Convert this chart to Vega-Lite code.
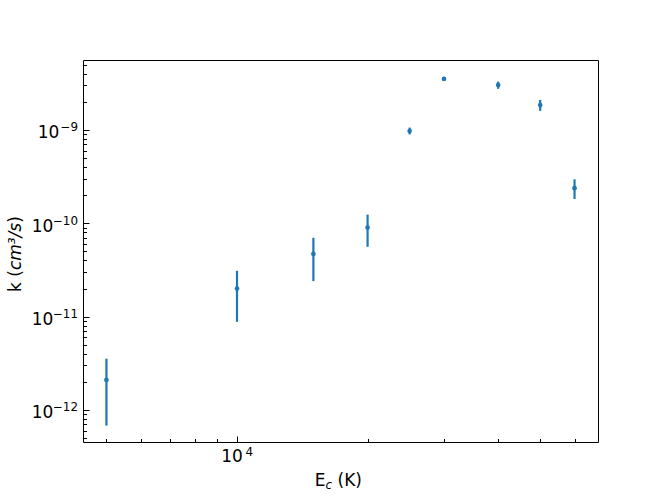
{
  "$schema": "https://vega.github.io/schema/vega-lite/v6.json",
  "autosize": "none",
  "width": 515,
  "height": 382,
  "padding": {"left": 83, "top": 60, "right": 66, "bottom": 56},
  "background": "white",
  "config": {
    "view": {"stroke": "black", "strokeWidth": 1},
    "axis": {"grid": false, "domain": false, "labelFont": "DejaVu Sans", "titleFont": "DejaVu Sans", "labelColor": "black", "titleColor": "black", "tickColor": "black", "tickWidth": 1, "labelFontSize": 17, "titleFontSize": 17, "titleFontWeight": "normal", "labelFlush": false, "labelOverlap": false}
  },
  "data": {
    "values": [
      {"x": 5000, "k": 2.1e-12, "lo": 0.68e-12, "hi": 3.55e-12},
      {"x": 10000, "k": 2.0e-11, "lo": 0.88e-11, "hi": 3.1e-11},
      {"x": 15000, "k": 4.7e-11, "lo": 2.4e-11, "hi": 7.0e-11},
      {"x": 20000, "k": 9.0e-11, "lo": 5.6e-11, "hi": 1.24e-10},
      {"x": 25000, "k": 9.75e-10, "lo": 8.95e-10, "hi": 1.06e-9},
      {"x": 30000, "k": 3.52e-9, "lo": 3.45e-9, "hi": 3.59e-9},
      {"x": 40000, "k": 3.03e-9, "lo": 2.76e-9, "hi": 3.3e-9},
      {"x": 50000, "k": 1.85e-9, "lo": 1.6e-9, "hi": 2.1e-9},
      {"x": 60000, "k": 2.38e-10, "lo": 1.82e-10, "hi": 2.96e-10}
    ]
  },
  "layer": [
    {
      "mark": {"type": "rule", "color": "#1f77b4", "strokeWidth": 2.2, "clip": true},
      "encoding": {
        "x": {"field": "x", "type": "quantitative", "scale": {"type": "log", "domain": [4415, 67960], "nice": false},
          "axis": {"orient": "bottom", "values": [10000], "labels": false, "tickSize": -6,
            "title": "E", "titleX": 231.3, "titleY": 43.3, "titleAlign": "left", "titleBaseline": "alphabetic", "titleAnchor": null}},
        "y": {"field": "lo", "type": "quantitative", "scale": {"type": "log", "domain": [4.54e-13, 5.62e-9], "nice": false},
          "axis": {"orient": "left", "values": [1e-12, 1e-11, 1e-10, 1e-9], "labels": false, "tickSize": -6,
            "title": "k (", "titleX": -63, "titleY": 231.5, "titleAngle": 270, "titleAlign": "left", "titleBaseline": "alphabetic", "titleAnchor": null}},
        "y2": {"field": "hi"}
      }
    },
    {
      "mark": {"type": "point", "filled": true, "color": "#1f77b4", "size": 22, "opacity": 1},
      "encoding": {
        "x": {"field": "x", "type": "quantitative",
          "axis": {"orient": "bottom", "values": [5000, 6000, 7000, 8000, 9000, 20000, 30000, 40000, 50000, 60000], "labels": false, "tickSize": -3.5,
            "title": "c", "titleFontSize": 11.9, "titleFontStyle": "italic", "titleX": 242, "titleY": 46, "titleAlign": "left", "titleBaseline": "alphabetic", "titleAnchor": null}},
        "y": {"field": "k", "type": "quantitative",
          "axis": {"orient": "left", "values": [5e-13, 6e-13, 7e-13, 8e-13, 9e-13, 2e-12, 3e-12, 4e-12, 5e-12, 6e-12, 7e-12, 8e-12, 9e-12, 2e-11, 3e-11, 4e-11, 5e-11, 6e-11, 7e-11, 8e-11, 9e-11, 2e-10, 3e-10, 4e-10, 5e-10, 6e-10, 7e-10, 8e-10, 9e-10, 2e-9, 3e-9, 4e-9, 5e-9], "labels": false, "tickSize": -3.5,
            "title": "cm³/s", "titleFontStyle": "italic", "titleX": -63, "titleY": 209.6, "titleAngle": 270, "titleAlign": "left", "titleBaseline": "alphabetic", "titleAnchor": null}}
      }
    },
    {
      "mark": {"type": "point", "opacity": 0},
      "encoding": {
        "x": {"field": "x", "type": "quantitative",
          "axis": {"orient": "bottom", "values": [10000], "labelExpr": "'10'", "ticks": false, "labelAlign": "center", "labelBaseline": "alphabetic", "labelOffset": -5.4, "labelPadding": 19.7,
            "title": "(K)", "titleX": 254, "titleY": 43.3, "titleAlign": "left", "titleBaseline": "alphabetic", "titleAnchor": null}},
        "y": {"field": "k", "type": "quantitative",
          "axis": {"orient": "left", "values": [1e-12, 1e-11, 1e-10, 1e-9], "labelExpr": "'10'", "ticks": false, "labelAlign": "right", "labelBaseline": "alphabetic", "labelOffset": 7.7,
            "labelPadding": {"condition": {"test": "datum.value > 5e-10", "value": 24.2}, "value": 30.2},
            "title": ")", "titleX": -63, "titleY": 162.3, "titleAngle": 270, "titleAlign": "left", "titleBaseline": "alphabetic", "titleAnchor": null}}
      }
    },
    {
      "mark": {"type": "point", "opacity": 0},
      "encoding": {
        "x": {"field": "x", "type": "quantitative",
          "axis": {"orient": "bottom", "title": null, "values": [10000], "labelExpr": "'4'", "ticks": false, "labelFontSize": 11.9, "labelAlign": "center", "labelBaseline": "alphabetic", "labelOffset": 11.7, "labelPadding": 13}},
        "y": {"field": "k", "type": "quantitative",
          "axis": {"orient": "left", "title": null, "values": [1e-12, 1e-11, 1e-10, 1e-9], "labelExpr": "datum.value < 5e-12 ? '−12' : datum.value < 5e-11 ? '−11' : datum.value < 5e-10 ? '−10' : '−9'", "ticks": false, "labelFontSize": 11.9, "labelAlign": "right", "labelBaseline": "alphabetic", "labelOffset": 1, "labelPadding": 5.5}}
      }
    }
  ],
  "resolve": {"axis": {"x": "independent", "y": "independent"}}
}
